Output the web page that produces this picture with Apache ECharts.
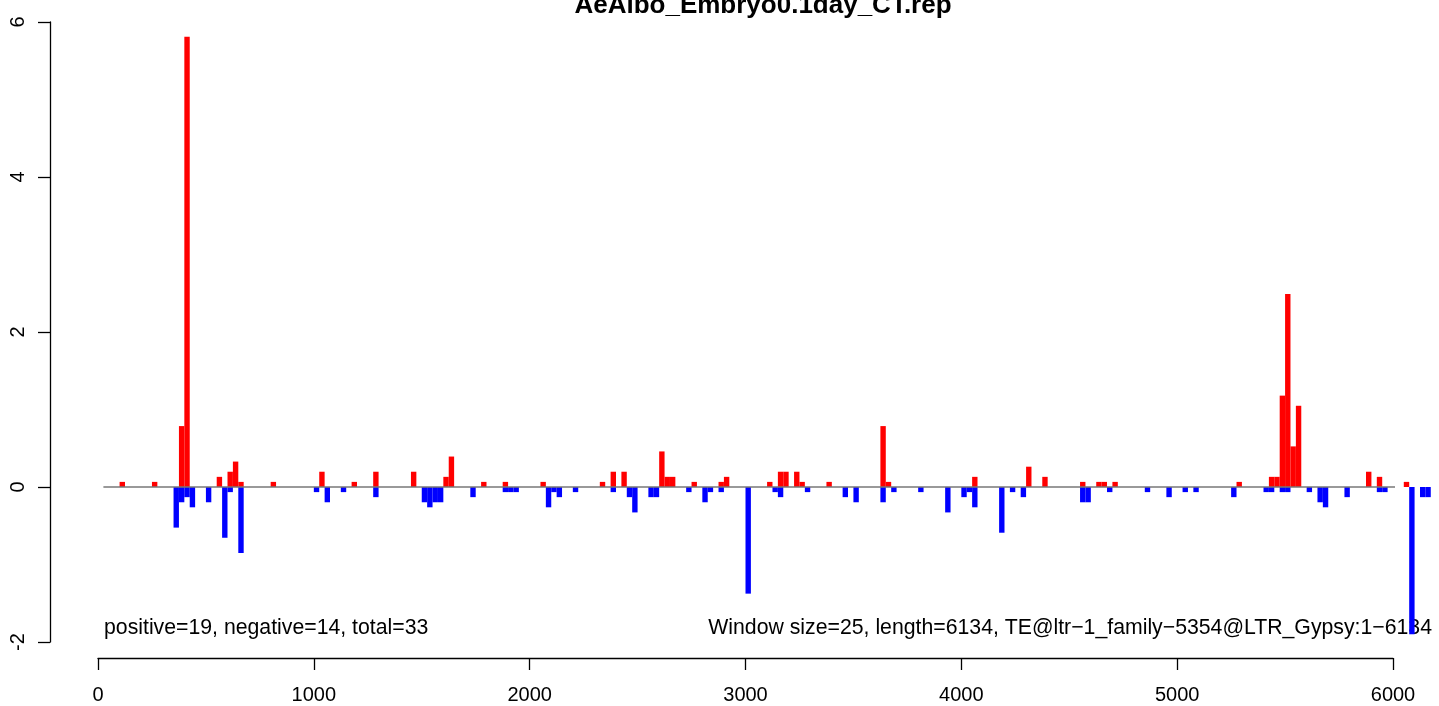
<!DOCTYPE html>
<html>
<head>
<meta charset="utf-8">
<script src="https://cdn.jsdelivr.net/npm/echarts@6/dist/echarts.min.js"></script>
<style>
html,body{margin:0;padding:0;background:#fff;}
#chart{width:1439px;height:706px;}
</style>
</head>
<body>
<div id="chart"></div>
<script>
// ---- data ----
const titleText = 'AeAlbo_Embryo0.1day_CT.rep';
const leftNote = 'positive=19, negative=14, total=33';
const rightNote = 'Window size=25, length=6134, TE@ltr\u22121_family\u22125354@LTR_Gypsy:1\u22126134';
const windowSize = 25;
const xTicks = [0, 1000, 2000, 3000, 4000, 5000, 6000];
const yTicks = [-2, 0, 2, 4, 6];

const posStart = [100,250,375,400,550,600,625,650,800,1025,1175,1275,1450,1600,1625,1775,1875,2050,2325,2375,2425,2600,2625,2650,2750,2875,2900,3100,3150,3175,3225,3250,3375,3625,3650,4050,4300,4375,4550,4625,4650,4700,5275,5425,5450,5475,5500,5525,5550,5875,5925,6050];
const posValue = [0.066,0.066,0.786,5.81,0.131,0.197,0.328,0.066,0.066,0.197,0.066,0.197,0.197,0.131,0.393,0.066,0.066,0.066,0.066,0.197,0.197,0.459,0.131,0.131,0.066,0.066,0.131,0.066,0.197,0.197,0.197,0.066,0.066,0.786,0.066,0.131,0.262,0.131,0.066,0.066,0.066,0.066,0.066,0.131,0.131,1.179,2.489,0.524,1.048,0.197,0.131,0.066];

const negStart = [350,375,400,425,500,575,600,650,1000,1050,1125,1275,1500,1525,1550,1575,1725,1875,1900,1925,2075,2100,2125,2200,2375,2450,2475,2550,2575,2725,2800,2825,2875,3000,3125,3150,3275,3450,3500,3625,3675,3800,3925,4000,4025,4050,4175,4225,4275,4550,4575,4675,4850,4950,5025,5075,5250,5400,5425,5475,5500,5600,5650,5675,5775,5925,5950,6075,6125,6150];
const negValue = [-0.524,-0.197,-0.131,-0.262,-0.197,-0.655,-0.066,-0.852,-0.066,-0.197,-0.066,-0.131,-0.197,-0.262,-0.197,-0.197,-0.131,-0.066,-0.066,-0.066,-0.262,-0.066,-0.131,-0.066,-0.066,-0.131,-0.328,-0.131,-0.131,-0.066,-0.197,-0.066,-0.066,-1.376,-0.066,-0.131,-0.066,-0.131,-0.197,-0.197,-0.066,-0.066,-0.328,-0.131,-0.066,-0.262,-0.590,-0.066,-0.131,-0.197,-0.197,-0.066,-0.066,-0.131,-0.066,-0.066,-0.131,-0.066,-0.066,-0.066,-0.066,-0.066,-0.197,-0.262,-0.131,-0.066,-0.066,-1.900,-0.131,-0.131];

const zeroLineRange = [25, 6175];
// ---------------

const FONT = '"Liberation Sans", Arial, Helvetica, sans-serif';

function zip(a, b) { return a.map((v, i) => [v, b[i]]); }

function barRenderer(color) {
  return function (params, api) {
    const x0 = api.value(0), v = api.value(1);
    const p1 = api.coord([x0, v]);
    const p2 = api.coord([x0 + windowSize, 0]);
    return {
      type: 'rect',
      shape: {
        x: p1[0],
        y: Math.min(p1[1], p2[1]),
        width: p2[0] - p1[0],
        height: Math.abs(p2[1] - p1[1])
      },
      style: { fill: color }
    };
  };
}

const chart = echarts.init(document.getElementById('chart'), null, { renderer: 'canvas' });

chart.setOption({
  animation: false,
  backgroundColor: '#ffffff',
  grid: { left: 98, right: 46, top: 22, bottom: 64, containLabel: false },
  xAxis: {
    type: 'value',
    min: xTicks[0],
    max: xTicks[xTicks.length - 1],
    interval: 1000,
    offset: 16,
    axisLine: { show: true, onZero: false, lineStyle: { color: '#000', width: 1.3 } },
    axisTick: { show: true, length: 12, lineStyle: { color: '#000', width: 1.3 } },
    axisLabel: { show: true, margin: 27, color: '#000', fontSize: 20, fontFamily: FONT,
      formatter: function (v) { return String(v); } },
    splitLine: { show: false }
  },
  yAxis: {
    type: 'value',
    min: yTicks[0],
    max: yTicks[yTicks.length - 1],
    interval: 2,
    offset: 48,
    axisLine: { show: true, onZero: false, lineStyle: { color: '#000', width: 1.3 } },
    axisTick: { show: true, length: 12, lineStyle: { color: '#000', width: 1.3 } },
    axisLabel: { show: true, rotate: 90, margin: 22, color: '#000', fontSize: 20, fontFamily: FONT,
      formatter: function (v) { return String(v); } },
    splitLine: { show: false }
  },
  series: [
    {
      type: 'custom',
      clip: false,
      renderItem: barRenderer('#ff0000'),
      data: zip(posStart, posValue),
      z: 2
    },
    {
      type: 'custom',
      clip: false,
      renderItem: barRenderer('#0000ff'),
      data: zip(negStart, negValue),
      z: 2
    },
    {
      type: 'line',
      clip: false,
      symbol: 'none',
      data: [[zeroLineRange[0], 0], [zeroLineRange[1], 0]],
      lineStyle: { color: '#777', width: 1.5 },
      z: 3
    }
  ],
  graphic: [
    {
      type: 'text',
      x: 763, y: 6,
      style: { text: titleText, fill: '#000', font: 'bold 26px ' + FONT, textAlign: 'center', textVerticalAlign: 'middle' }
    },
    {
      type: 'text',
      x: 104, y: 628,
      style: { text: leftNote, fill: '#000', font: '21.25px ' + FONT, textAlign: 'left', textVerticalAlign: 'middle' }
    },
    {
      type: 'text',
      x: 1432, y: 628,
      style: { text: rightNote, fill: '#000', font: '21.25px ' + FONT, textAlign: 'right', textVerticalAlign: 'middle' }
    }
  ]
});
</script>
</body>
</html>
